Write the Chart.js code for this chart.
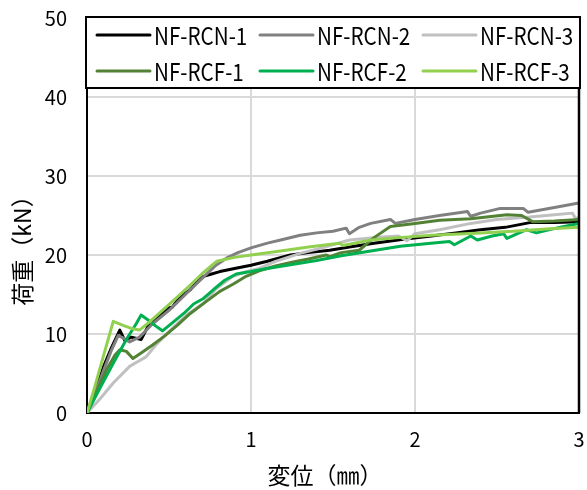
<!DOCTYPE html>
<html>
<head>
<meta charset="utf-8">
<script src="https://cdn.jsdelivr.net/npm/chart.js@4/dist/chart.umd.min.js"></script>
<style>
  html, body { margin: 0; padding: 0; background: #fff; }
  #wrap { width: 587px; height: 490px; }
</style>
</head>
<body>
<div id="wrap"><canvas id="c" width="587" height="490"></canvas></div>
<script>
// Load–displacement curves (displacement in mm, load in kN)
const seriesNames = ['NF-RCN-1', 'NF-RCN-2', 'NF-RCN-3', 'NF-RCF-1', 'NF-RCF-2', 'NF-RCF-3'];

const rcn1X = [0, 0.05, 0.10, 0.15, 0.20, 0.23, 0.27, 0.33, 0.38, 0.45, 0.49, 0.52, 0.56, 0.60, 0.63, 0.66, 0.71, 0.76, 0.81, 0.90, 1.00, 1.10, 1.24, 1.35, 1.48, 1.60, 1.75, 1.93, 2.10, 2.25, 2.40, 2.55, 2.70, 2.85, 3.00];
const rcn1Y = [0, 2.8, 5.8, 8.3, 10.5, 9.2, 9.6, 9.3, 11.3, 12.4, 13.3, 13.4, 14.5, 15.2, 15.6, 16.4, 17.3, 17.6, 17.9, 18.3, 18.7, 19.2, 20.0, 20.3, 20.6, 21.0, 21.5, 22.0, 22.4, 22.8, 23.2, 23.5, 24.1, 24.1, 24.2];

const rcn2X = [0, 0.05, 0.10, 0.15, 0.19, 0.22, 0.26, 0.32, 0.40, 0.50, 0.60, 0.70, 0.78, 0.85, 0.92, 1.00, 1.10, 1.20, 1.30, 1.40, 1.50, 1.58, 1.60, 1.66, 1.73, 1.85, 1.88, 2.00, 2.15, 2.32, 2.34, 2.40, 2.52, 2.66, 2.69, 2.85, 3.00];
const rcn2Y = [0, 2.5, 5.3, 8.0, 9.8, 9.5, 9.0, 9.6, 11.3, 13.0, 15.0, 17.0, 18.6, 19.6, 20.3, 20.9, 21.5, 22.0, 22.5, 22.8, 23.0, 23.4, 22.7, 23.5, 24.0, 24.5, 24.0, 24.5, 25.0, 25.5, 24.9, 25.3, 25.9, 25.9, 25.4, 26.0, 26.6];

const rcn3X = [0, 0.08, 0.16, 0.26, 0.30, 0.36, 0.42, 0.49, 0.55, 0.62, 0.71, 0.79, 0.89, 0.97, 1.05, 1.15, 1.30, 1.45, 1.60, 1.75, 1.90, 1.95, 2.00, 2.15, 2.34, 2.50, 2.70, 2.85, 2.96, 2.98, 3.00];
const rcn3Y = [0, 1.8, 3.8, 5.9, 6.4, 7.1, 8.6, 10.1, 11.3, 12.6, 13.9, 15.8, 17.3, 17.9, 18.3, 19.2, 20.2, 21.0, 21.9, 22.2, 22.4, 21.8, 22.7, 23.2, 24.0, 24.5, 24.8, 25.1, 25.3, 24.6, 24.8];

const rcf1X = [0, 0.06, 0.12, 0.17, 0.20, 0.24, 0.28, 0.33, 0.40, 0.47, 0.55, 0.63, 0.72, 0.81, 0.89, 0.97, 1.05, 1.15, 1.25, 1.35, 1.46, 1.48, 1.55, 1.66, 1.75, 1.85, 2.00, 2.15, 2.34, 2.56, 2.65, 2.72, 2.85, 3.00];
const rcf1Y = [0, 2.8, 5.5, 7.3, 8.0, 7.8, 6.9, 7.6, 8.6, 9.7, 11.1, 12.6, 14.0, 15.4, 16.3, 17.3, 18.0, 18.6, 19.1, 19.5, 20.0, 19.8, 20.3, 20.6, 22.2, 23.6, 24.0, 24.4, 24.6, 25.1, 25.0, 24.2, 24.3, 24.5];

const rcf2X = [0, 0.08, 0.16, 0.24, 0.30, 0.33, 0.37, 0.42, 0.46, 0.52, 0.59, 0.65, 0.71, 0.77, 0.84, 0.91, 1.00, 1.10, 1.25, 1.40, 1.55, 1.73, 1.91, 2.05, 2.21, 2.24, 2.34, 2.38, 2.47, 2.54, 2.56, 2.68, 2.74, 2.88, 3.00];
const rcf2Y = [0, 3.2, 6.3, 9.3, 11.3, 12.4, 11.8, 11.0, 10.4, 11.4, 12.6, 13.8, 14.5, 15.6, 16.8, 17.6, 17.9, 18.3, 18.8, 19.3, 19.9, 20.5, 21.1, 21.4, 21.7, 21.3, 22.4, 21.9, 22.4, 22.7, 22.1, 23.2, 22.8, 23.5, 24.0];

const rcf3X = [0, 0.05, 0.10, 0.16, 0.22, 0.27, 0.32, 0.38, 0.45, 0.53, 0.62, 0.70, 0.79, 0.90, 1.00, 1.18, 1.35, 1.54, 1.56, 1.73, 1.90, 2.10, 2.40, 2.60, 2.80, 3.00];
const rcf3Y = [0, 3.5, 7.2, 11.6, 11.1, 10.7, 10.5, 11.5, 12.8, 14.3, 16.0, 17.6, 19.2, 19.7, 20.0, 20.5, 21.0, 21.5, 21.2, 21.9, 22.2, 22.5, 22.8, 23.0, 23.3, 23.5];

const seriesColors = ['#000000', '#808080', '#C0C0C0', '#548235', '#00B050', '#92D050'];

const xTicks = [0, 1, 2, 3];
const yTicks = [0, 10, 20, 30, 40, 50];

const xTitle = '変位（㎜）';
const yTitle = '荷重（kN）';

const FONT = '"Noto Sans CJK JP", "Noto Sans", sans-serif';

const seriesXY = [[rcn1X, rcn1Y], [rcn2X, rcn2Y], [rcn3X, rcn3Y], [rcf1X, rcf1Y], [rcf2X, rcf2Y], [rcf3X, rcf3Y]];

const datasets = seriesXY.map(([xs, ys], i) => ({
  label: seriesNames[i],
  data: xs.map((x, k) => ({ x: x, y: ys[k] })),
  borderColor: seriesColors[i],
  backgroundColor: seriesColors[i],
  borderWidth: 3,
  pointRadius: 0,
  tension: 0,
  fill: false,
  borderJoinStyle: 'round',
  order: seriesNames.length - i   // later series drawn on top
}));

// Draw text squeezed horizontally (condensed face look)
function condensedText(ctx, text, x, y, squeeze) {
  ctx.save();
  ctx.translate(x, y);
  ctx.scale(squeeze, 1);
  ctx.fillText(text, 0, 0);
  ctx.restore();
}

// Frame, axis titles and boxed legend laid over the plot
const decorations = {
  id: 'decorations',
  afterDatasetsDraw(chart) {
    const ctx = chart.ctx;
    const a = chart.chartArea;
    ctx.save();
    ctx.strokeStyle = '#000';
    ctx.lineWidth = 2.5;
    ctx.beginPath();
    ctx.moveTo(a.right, a.top);
    ctx.lineTo(a.right, a.bottom);
    ctx.stroke();
    ctx.restore();
  },
  afterDraw(chart) {
    const ctx = chart.ctx;
    const a = chart.chartArea;
    ctx.save();

    // legend box
    const bx = a.left - 1, by = a.top - 1, bw = a.right - a.left + 2, bh = 71;
    ctx.fillStyle = '#fff';
    ctx.fillRect(bx, by, bw, bh);
    ctx.strokeStyle = '#000';
    ctx.lineWidth = 2;
    ctx.strokeRect(bx, by, bw, bh);

    const colX = [a.left + 10, a.left + 173, a.left + 336];
    const rowY = [by + 18, by + 54];
    ctx.font = '24px ' + FONT;
    ctx.textBaseline = 'middle';
    ctx.textAlign = 'left';
    seriesNames.forEach((name, i) => {
      const cx = colX[i % 3];
      const cy = rowY[Math.floor(i / 3)];
      ctx.strokeStyle = seriesColors[i];
      ctx.lineWidth = 3;
      ctx.lineCap = 'round';
      ctx.beginPath();
      ctx.moveTo(cx, cy);
      ctx.lineTo(cx + 53, cy);
      ctx.stroke();
      ctx.fillStyle = '#000';
      condensedText(ctx, name, cx + 57, cy + 1, 0.86);
    });

    // axis titles
    ctx.fillStyle = '#000';
    ctx.font = '23px ' + FONT;
    ctx.textAlign = 'center';
    ctx.textBaseline = 'middle';
    ctx.fillText(xTitle, 325, 475);

    ctx.translate(22, 245);
    ctx.rotate(-Math.PI / 2);
    ctx.fillText(yTitle, 0, 0);
    ctx.restore();
  }
};

function noEdgePadding(scale) {
  scale.paddingLeft = 0;
  scale.paddingRight = 0;
  scale.paddingTop = 0;
  scale.paddingBottom = 0;
}

new Chart(document.getElementById('c'), {
  type: 'line',
  data: { datasets: datasets },
  options: {
    responsive: false,
    animation: false,
    devicePixelRatio: 1,
    layout: { padding: { top: 18, right: 8, left: 0, bottom: 0 } },
    plugins: { legend: { display: false }, tooltip: { enabled: false } },
    scales: {
      x: {
        type: 'linear',
        min: 0,
        max: 3,
        afterBuildTicks(scale) { scale.ticks = xTicks.map(v => ({ value: v })); },
        afterFit(scale) { scale.height = 77; noEdgePadding(scale); },
        grid: { color: '#D9D9D9', lineWidth: 2, drawTicks: false },
        border: { color: '#000', width: 2 },
        ticks: { color: '#000', padding: 14, font: { family: FONT, size: 20 } }
      },
      y: {
        type: 'linear',
        min: 0,
        max: 50,
        afterBuildTicks(scale) { scale.ticks = yTicks.map(v => ({ value: v })); },
        afterFit(scale) { scale.width = 87; noEdgePadding(scale); },
        grid: { color: '#D9D9D9', lineWidth: 2, drawTicks: false },
        border: { color: '#000', width: 2 },
        ticks: { color: '#000', padding: 20, font: { family: FONT, size: 20 } }
      }
    }
  },
  plugins: [decorations]
});
</script>
</body>
</html>
